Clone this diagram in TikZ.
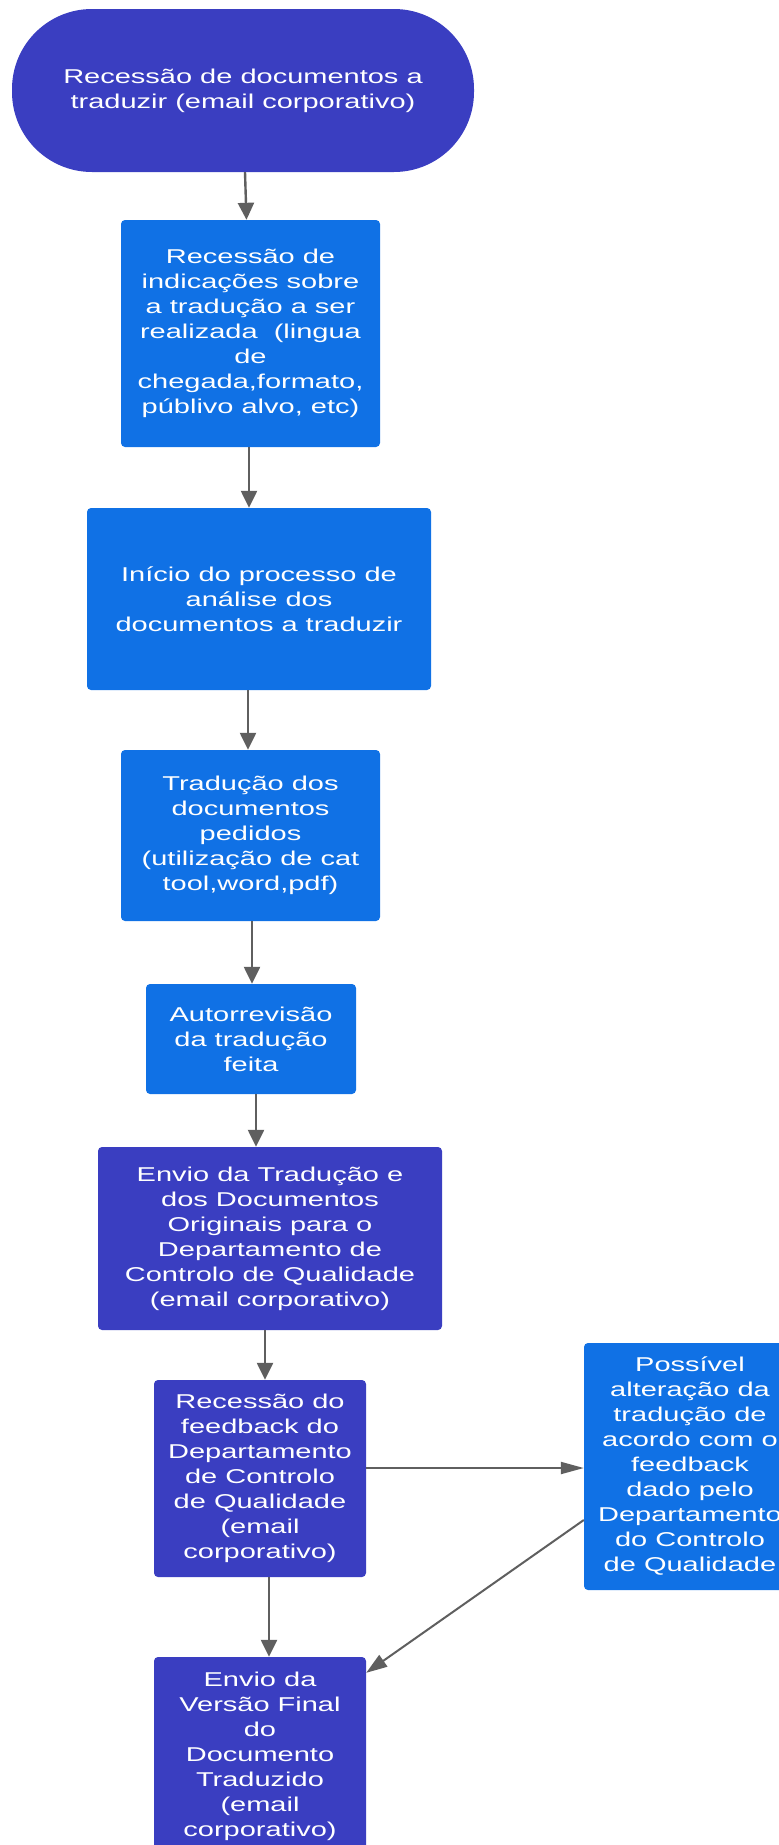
\documentclass[tikz,border=0pt]{standalone}
\usepackage{fontspec}
\setmainfont{Liberation Sans}[FakeStretch=1.45]
\usepackage{xcolor}
\usepackage{tikz}
\usetikzlibrary{arrows.meta}
\definecolor{roxo}{RGB}{58,62,193}
\definecolor{azul}{RGB}{16,113,229}
\definecolor{seta}{RGB}{95,95,95}

\begin{document}
\begin{tikzpicture}[x=1pt,y=-1pt,
  passo/.style={rectangle,rounded corners=4pt,text=white,align=center,inner sep=0pt,font=\fontsize{20}{25}\selectfont},
  azulbox/.style={passo,fill=azul},
  roxobox/.style={passo,fill=roxo},
  fluxo/.style={draw=seta,line width=2.4pt,-{Triangle[length=17pt,width=16pt]}}]
\useasboundingbox (0,0) rectangle (779,1845);
\clip (0,0) rectangle (779,1845);

%inicio
\node[roxobox,rounded corners=80pt,minimum width=462pt,minimum height=163pt] (recessao) at (243,90.5) {Recessão de documentos a\\traduzir (email corporativo)};

\node[azulbox,minimum width=259pt,minimum height=227pt] (indicacoes) at (250.5,333.5) {Recessão de\\indicações sobre\\a tradução a ser\\realizada~ (lingua\\de\\chegada,formato,\\públivo alvo, etc)};
\node[azulbox,minimum width=344pt,minimum height=182pt] (analise) at (259,599) {Início do processo de\\análise dos\\documentos a traduzir};
\node[azulbox,minimum width=259pt,minimum height=171pt] (traducao) at (250.5,835.5) {Tradução dos\\documentos\\pedidos\\(utilização de cat\\tool,word,pdf)};
\node[azulbox,minimum width=210pt,minimum height=110pt] (autorrevisao) at (251,1039) {Autorrevisão\\da tradução\\feita};

%controlo de qualidade
\node[roxobox,minimum width=344pt,minimum height=183pt] (envio) at (270,1238.5) {Envio da Tradução e\\dos Documentos\\Originais para o\\Departamento de\\Controlo de Qualidade\\(email corporativo)};
\node[roxobox,minimum width=212pt,minimum height=197pt] (feedback) at (260,1478.5) {Recessão do\\feedback do\\Departamento\\de Controlo\\de Qualidade\\(email\\corporativo)};
\node[azulbox,minimum width=212pt,minimum height=247pt] (possivel) at (690,1466.5) {Possível\\alteração da\\tradução de\\acordo com o\\feedback\\dado pelo\\Departamento\\do Controlo\\de Qualidade};
\node[roxobox,minimum width=212pt,minimum height=198pt] (final) at (260,1756) {Envio da\\Versão Final\\do\\Documento\\Traduzido\\(email\\corporativo)};

%setas
\draw[fluxo] ([xshift=2pt]recessao.south) -- ([xshift=-4pt]indicacoes.north);
\draw[fluxo] ([xshift=-1.5pt]indicacoes.south) -- ([xshift=-10pt]analise.north);
\draw[fluxo] ([xshift=-11pt]analise.south) -- ([xshift=-2.5pt]traducao.north);
\draw[fluxo] ([xshift=1.5pt]traducao.south) -- ([xshift=1pt]autorrevisao.north);
\draw[fluxo] ([xshift=5pt]autorrevisao.south) -- ([xshift=-14pt]envio.north);
\draw[fluxo] ([xshift=-5pt]envio.south) -- ([xshift=5pt]feedback.north);
\draw[fluxo] ([xshift=9pt]feedback.south) -- ([xshift=9pt]final.north);
\draw[fluxo,line width=2pt,-{Triangle[length=23pt,width=12pt]}] ([yshift=10.5pt]feedback.east) -- ([yshift=-1.5pt]possivel.west);
\draw[fluxo,line width=2pt,-{Triangle[length=21pt,width=14pt]}] ([yshift=-53.5pt]possivel.west) -- ([yshift=-16pt]final.north east);

\end{tikzpicture}
\end{document}
